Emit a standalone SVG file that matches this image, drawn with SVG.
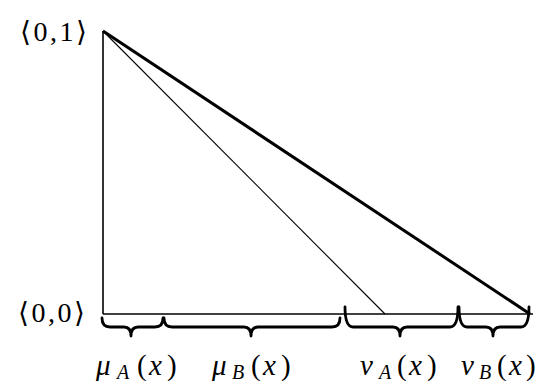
<svg xmlns="http://www.w3.org/2000/svg" width="550" height="392" viewBox="0 0 550 392">
<style>
text{font-family:'Liberation Serif','DejaVu Serif',serif;fill:#000}
.m{font-size:28px;letter-spacing:2.5px}
.v{font-size:29px;font-style:italic}
.s{font-size:20px;font-style:italic}
.p{font-size:29px;font-style:normal}
.br{fill:none;stroke:#000;stroke-width:2.8;stroke-linecap:round;stroke-linejoin:round}
</style>
<rect width="550" height="392" fill="#fff"/>
<g id="connectors" stroke="#000" fill="none">
<line x1="103" y1="31" x2="103" y2="314" stroke-width="1.6"/>
<line x1="103" y1="314" x2="533" y2="314" stroke-width="1.6"/>
<line x1="103" y1="31" x2="530" y2="314" stroke-width="3"/>
<line x1="103" y1="31" x2="385" y2="314" stroke-width="1.1"/>
</g>
<g id="node-origin-top">
<text class="m" x="20" y="41">⟨0,1⟩</text>
</g>
<g id="node-origin-bottom">
<text class="m" x="18" y="322">⟨0,0⟩</text>
</g>
<g id="brace-muA">
<path class="br" d="M102 318 Q102 327 110 327 L124 327 Q131 327 131 336 Q131 327 138 327 L155 327 Q163 327 163 318"/>
<text y="375"><tspan class="v" x="96">μ</tspan><tspan class="s" x="117" y="379">A</tspan><tspan class="p" x="137" y="375">(</tspan><tspan class="v" x="149">x</tspan><tspan class="p" x="167">)</tspan></text>
</g>
<g id="brace-muB">
<path class="br" d="M164 318 Q164 327 172 327 L244 327 Q251 327 251 336 Q251 327 258 327 L332 327 Q340 327 340 318"/>
<text y="375"><tspan class="v" x="212">μ</tspan><tspan class="s" x="232" y="379">B</tspan><tspan class="p" x="251" y="375">(</tspan><tspan class="v" x="263">x</tspan><tspan class="p" x="281">)</tspan></text>
</g>
<g id="brace-nuA">
<path class="br" d="M345 307 Q345 327 353 327 L393 327 Q400 327 400 336 Q400 327 407 327 L450 327 Q458 327 458 307"/>
<text y="375"><tspan class="v" x="360">ν</tspan><tspan class="s" x="379" y="379">A</tspan><tspan class="p" x="397" y="375">(</tspan><tspan class="v" x="409">x</tspan><tspan class="p" x="427">)</tspan></text>
</g>
<g id="brace-nuB">
<path class="br" d="M459 307 Q459 327 467 327 L486 327 Q493 327 493 336 Q493 327 500 327 L521 327 Q529 327 529 307"/>
<text y="375"><tspan class="v" x="461">ν</tspan><tspan class="s" x="479" y="379">B</tspan><tspan class="p" x="497" y="375">(</tspan><tspan class="v" x="509">x</tspan><tspan class="p" x="526">)</tspan></text>
</g>
</svg>
